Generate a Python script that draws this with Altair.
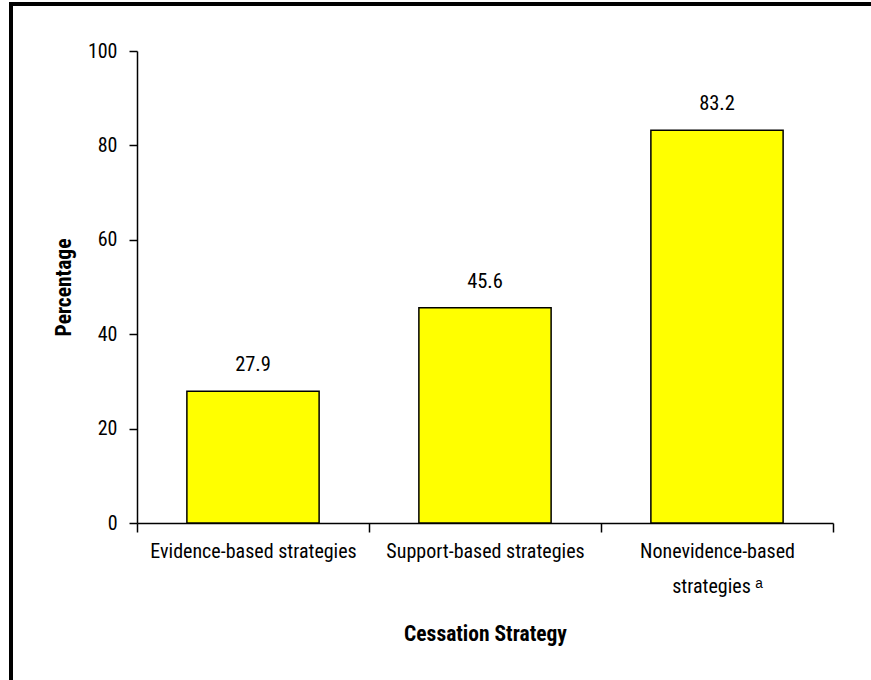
import altair as alt
import pandas as pd

categories = ["Evidence-based strategies", "Support-based strategies", "Nonevidence-based strategies"]
values = [27.9, 45.6, 83.2]
labels = ["27.9", "45.6", "83.2"]
y_ticks = [0, 20, 40, 60, 80, 100]

df = pd.DataFrame({"strategy": categories, "pct": values, "label": labels})

FONT = "Roboto Condensed, Liberation Sans Narrow, Roboto, sans-serif"

x = alt.X(
    "strategy:N",
    sort=categories,
    scale=alt.Scale(paddingInner=0, paddingOuter=0),
    axis=alt.Axis(
        title="Cessation Strategy",
        labelAngle=0,
        tickBand="extent",
        tickSize=9,
        labelPadding=9,
        labelLimit=400,
        labelLineHeight=35,
        labelExpr="datum.value == 'Nonevidence-based strategies' ? ['Nonevidence-based', 'strategies \u1d43'] : datum.value",
        titlePadding=27,
    ),
)
y = alt.Y(
    "pct:Q",
    scale=alt.Scale(domain=[0, 100]),
    axis=alt.Axis(
        title="Percentage",
        values=y_ticks,
        grid=False,
        tickSize=8,
        labelPadding=12,
        titlePadding=12,
    ),
)

base = alt.Chart(df)
bars = base.mark_bar(
    color="#FFFF00", stroke="#000000", strokeWidth=1.5, width=alt.RelativeBandSize(0.57)
).encode(x=x, y=y)
text = base.mark_text(baseline="alphabetic", dy=-20, fontSize=20.5, font=FONT, color="#000000").encode(
    x=alt.X("strategy:N", sort=categories), y="pct:Q", text="label:N"
)

frame_df = pd.DataFrame({"k": [0]})
left_edge = alt.Chart(frame_df).mark_rule(color="#000000", strokeWidth=4).encode(
    x=alt.value(-126), y=alt.value(-49), y2=alt.value(700)
)
top_edge = alt.Chart(frame_df).mark_rule(color="#000000", strokeWidth=4).encode(
    x=alt.value(-128), x2=alt.value(800), y=alt.value(-47)
)

chart = (
    alt.layer(bars, text, left_edge, top_edge)
    .properties(
        width=696,
        height=472,
        autosize=alt.AutoSizeParams(type="none"),
        padding={"left": 137, "top": 51, "right": 38, "bottom": 157},
        background="#FFFFFF",
    )
    .configure_view(stroke=None)
    .configure_axis(
        domainColor="#000000",
        domainWidth=1.5,
        tickColor="#000000",
        tickWidth=1.5,
        labelColor="#000000",
        titleColor="#000000",
        labelFont=FONT,
        titleFont=FONT,
        labelFontSize=20,
        titleFontSize=21.5,
        titleFontWeight="bold",
    )
)

chart.save("out.html", embed_options={"renderer": "svg", "actions": False})
